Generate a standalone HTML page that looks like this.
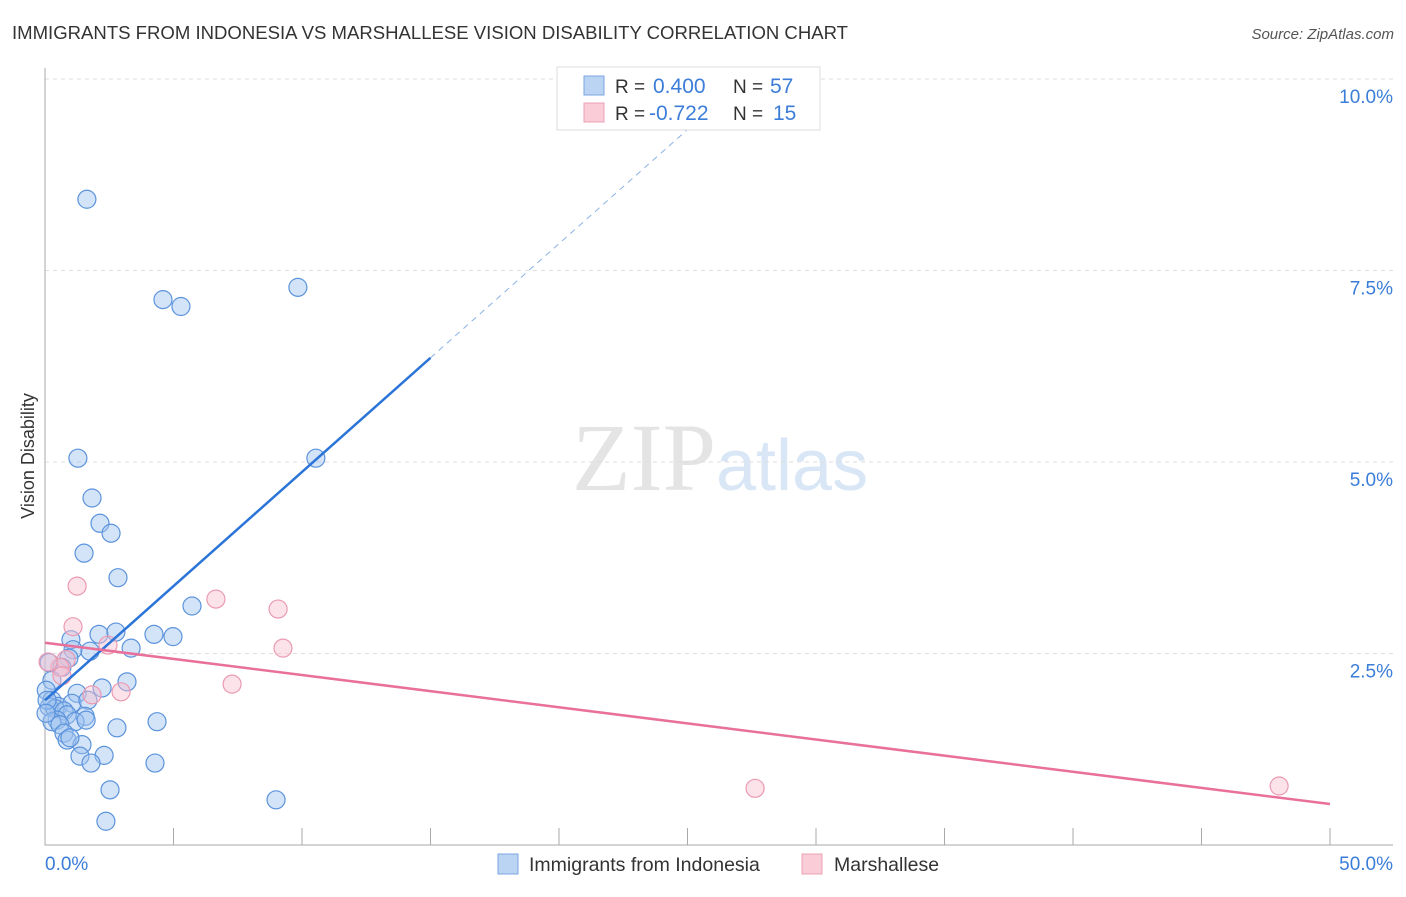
<!DOCTYPE html>
<html><head><meta charset="utf-8"><style>
body{margin:0;background:#fff;font-family:"Liberation Sans",sans-serif}
</style></head><body>
<svg width="1406" height="892" xmlns="http://www.w3.org/2000/svg" font-family="Liberation Sans, sans-serif" id="chart">
<text x="12" y="39" font-size="18" fill="#333" textLength="836" lengthAdjust="spacingAndGlyphs">IMMIGRANTS FROM INDONESIA VS MARSHALLESE VISION DISABILITY CORRELATION CHART</text>
<text x="1394" y="39" font-size="15" fill="#555" font-style="italic" text-anchor="end">Source: ZipAtlas.com</text>
<text x="716" y="490" font-size="96" fill="#e4e4e4" text-anchor="end" font-family="Liberation Serif, serif">ZIP</text>
<text x="716" y="490" font-size="72" fill="#d8e6f6">atlas</text>
<g id="grid"></g><g id="axes"></g><g id="marks"></g>
<text transform="translate(34,456) rotate(-90)" font-size="18" fill="#333" text-anchor="middle">Vision Disability</text>
<text x="45" y="870" font-size="19" fill="#3b7dd8">0.0%</text>
<text x="1393" y="870" font-size="19" fill="#3b7dd8" text-anchor="end">50.0%</text>
<g>
<rect x="557" y="67" width="263" height="63" fill="#fff" stroke="#ddd"/>
<rect x="584" y="76" width="20" height="19" fill="#bcd4f4" stroke="#7aa6e0"/>
<rect x="584" y="103" width="20" height="19" fill="#f9ccd8" stroke="#eba0b6"/>
<text x="615" y="93" font-size="19" fill="#333">R =</text><text x="653" y="93" font-size="21" fill="#3b7dd8">0.400</text>
<text x="733" y="93" font-size="19" fill="#333">N =</text><text x="770" y="93" font-size="21" fill="#3b7dd8">57</text>
<text x="615" y="120" font-size="19" fill="#333">R =</text><text x="649" y="120" font-size="21" fill="#3b7dd8">-0.722</text>
<text x="733" y="120" font-size="19" fill="#333">N =</text><text x="773" y="120" font-size="21" fill="#3b7dd8">15</text>
</g>
<g><rect x="498" y="854" width="20" height="20" fill="#bcd4f4" stroke="#7aa6e0"/><text x="529" y="871" font-size="19.5" fill="#333">Immigrants from Indonesia</text></g>
<g><rect x="802" y="854" width="20" height="20" fill="#f9ccd8" stroke="#eba0b6"/><text x="834" y="871" font-size="19.5" fill="#333">Marshallese</text></g>
</svg>
<script>
const blueX=[1.63,4.59,5.29,9.84,1.28,10.54,1.83,2.14,2.57,1.52,2.84,5.72,1.01,2.10,2.76,4.24,4.98,1.09,1.75,3.35,0.93,0.16,0.66,0.27,0.05,1.25,2.22,3.19,0.27,0.51,1.05,1.67,0.16,0.39,0.74,0.86,1.56,1.17,1.60,0.47,0.27,0.58,0.74,0.86,1.44,0.97,2.80,4.36,1.36,2.30,1.79,4.28,2.53,8.99,2.37,0.08,0.04];
const blueY=[8.43,7.12,7.03,7.28,5.05,5.05,4.53,4.20,4.07,3.81,3.49,3.12,2.68,2.75,2.78,2.75,2.72,2.55,2.53,2.57,2.44,2.38,2.32,2.15,2.02,1.98,2.05,2.13,1.89,1.81,1.85,1.89,1.80,1.78,1.75,1.70,1.68,1.61,1.63,1.63,1.61,1.57,1.46,1.37,1.31,1.40,1.53,1.61,1.16,1.17,1.07,1.07,0.72,0.59,0.31,1.89,1.72];
const pinkX=[1.25,6.65,9.07,1.09,2.45,9.26,0.82,0.58,0.12,0.66,1.83,2.96,7.28,27.63,48.02];
const pinkY=[3.38,3.21,3.08,2.85,2.61,2.57,2.42,2.32,2.39,2.21,1.96,2.00,2.10,0.74,0.77];
const blueTrend=[1.89,0.298];
const pinkTrend=[2.64,-0.0421];
const yTicks=[2.5,5,7.5,10];
const yTickLabels=["2.5%","5.0%","7.5%","10.0%"];
const xTicks=[0,5,10,15,20,25,30,35,40,45,50];
const NS="http://www.w3.org/2000/svg";
const X=v=>45+v*25.7, Y=v=>845-v*76.6;
function mk(p,t,a){const e=document.createElementNS(NS,t);for(const k in a)e.setAttribute(k,a[k]);document.getElementById(p).appendChild(e);return e;}
yTicks.forEach((t,i)=>{
 const l=mk('grid','line',{x1:45,x2:1393,y1:Y(t),y2:Y(t),stroke:'#ddd','stroke-dasharray':'4,4'});
 
 
 const tx=mk('grid','text',{x:1393,y:Y(t)+24,'font-size':19,fill:'#3b7dd8','text-anchor':'end'});
 tx.textContent=yTickLabels[i];
 
 
});
const ax=mk('axes','path',{d:'M45,68V845H1393',stroke:'#aaa',fill:'none'});


xTicks.forEach(t=>{if(t===0)return;
 const l=mk('axes','line',{x1:X(t),x2:X(t),y1:828,y2:845,stroke:'#aaa'});
 
 
});
blueX.forEach((x,i)=>{const c=mk('marks','circle',{cx:X(x),cy:Y(blueY[i]),r:9,fill:'rgba(160,196,240,0.45)',stroke:'#5b93dc','stroke-width':1.2});
 
 });
pinkX.forEach((x,i)=>{const c=mk('marks','circle',{cx:X(x),cy:Y(pinkY[i]),r:9,fill:'rgba(248,190,206,0.45)',stroke:'#eb9ab2','stroke-width':1.2});
 
 });
const bf=x=>blueTrend[0]+blueTrend[1]*x, pf=x=>pinkTrend[0]+pinkTrend[1]*x;
const b1=mk('marks','line',{x1:X(0),y1:Y(bf(0)),x2:X(15),y2:Y(bf(15)),stroke:'#2b74d8','stroke-width':2.5});


const b2=mk('marks','line',{x1:X(15),y1:Y(bf(15)),x2:X(26.5),y2:Y(bf(26.5)),stroke:'#8ab2e6','stroke-width':1,'stroke-dasharray':'6,5'});


const p1=mk('marks','line',{x1:X(0),y1:Y(pf(0)),x2:X(50),y2:Y(pf(50)),stroke:'#e8709a','stroke-width':2.5});


</script>
</body></html>
